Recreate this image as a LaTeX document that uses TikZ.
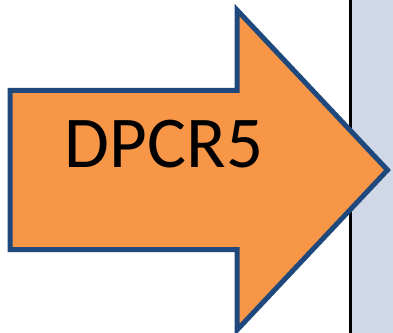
\documentclass[tikz,border=0pt]{standalone}
\usepackage{fontspec}
\setmainfont{Carlito}
\definecolor{arrowfill}{HTML}{F79646}
\definecolor{arrowline}{HTML}{1F497D}
\definecolor{panelfill}{HTML}{D0D8E8}
\begin{document}
\begin{tikzpicture}[x=1pt,y=1pt,
  panel/.style={fill=panelfill,draw=none},
  divider/.style={draw=black,line width=3pt},
  bigarrow/.style={fill=arrowfill,draw=arrowline,line width=5pt,line join=miter},
  label/.style={font=\fontsize{73}{86}\selectfont,text=black,inner sep=0pt}]
\useasboundingbox (0,0) rectangle (393,332);
\fill[white] (0,0) rectangle (393,332);
\path[panel] (350.5,-2) rectangle (395,334);
\draw[divider] (350.5,-2) -- (350.5,334);
\draw[bigarrow] (10,241.5) -- (237,241.5) -- (237,322) -- (387.5,162) -- (237,2) -- (237,82.5) -- (10,82.5) -- cycle;
\node[label,anchor=base] (t) at (164,164) {DPCR5};
\end{tikzpicture}
\end{document}
